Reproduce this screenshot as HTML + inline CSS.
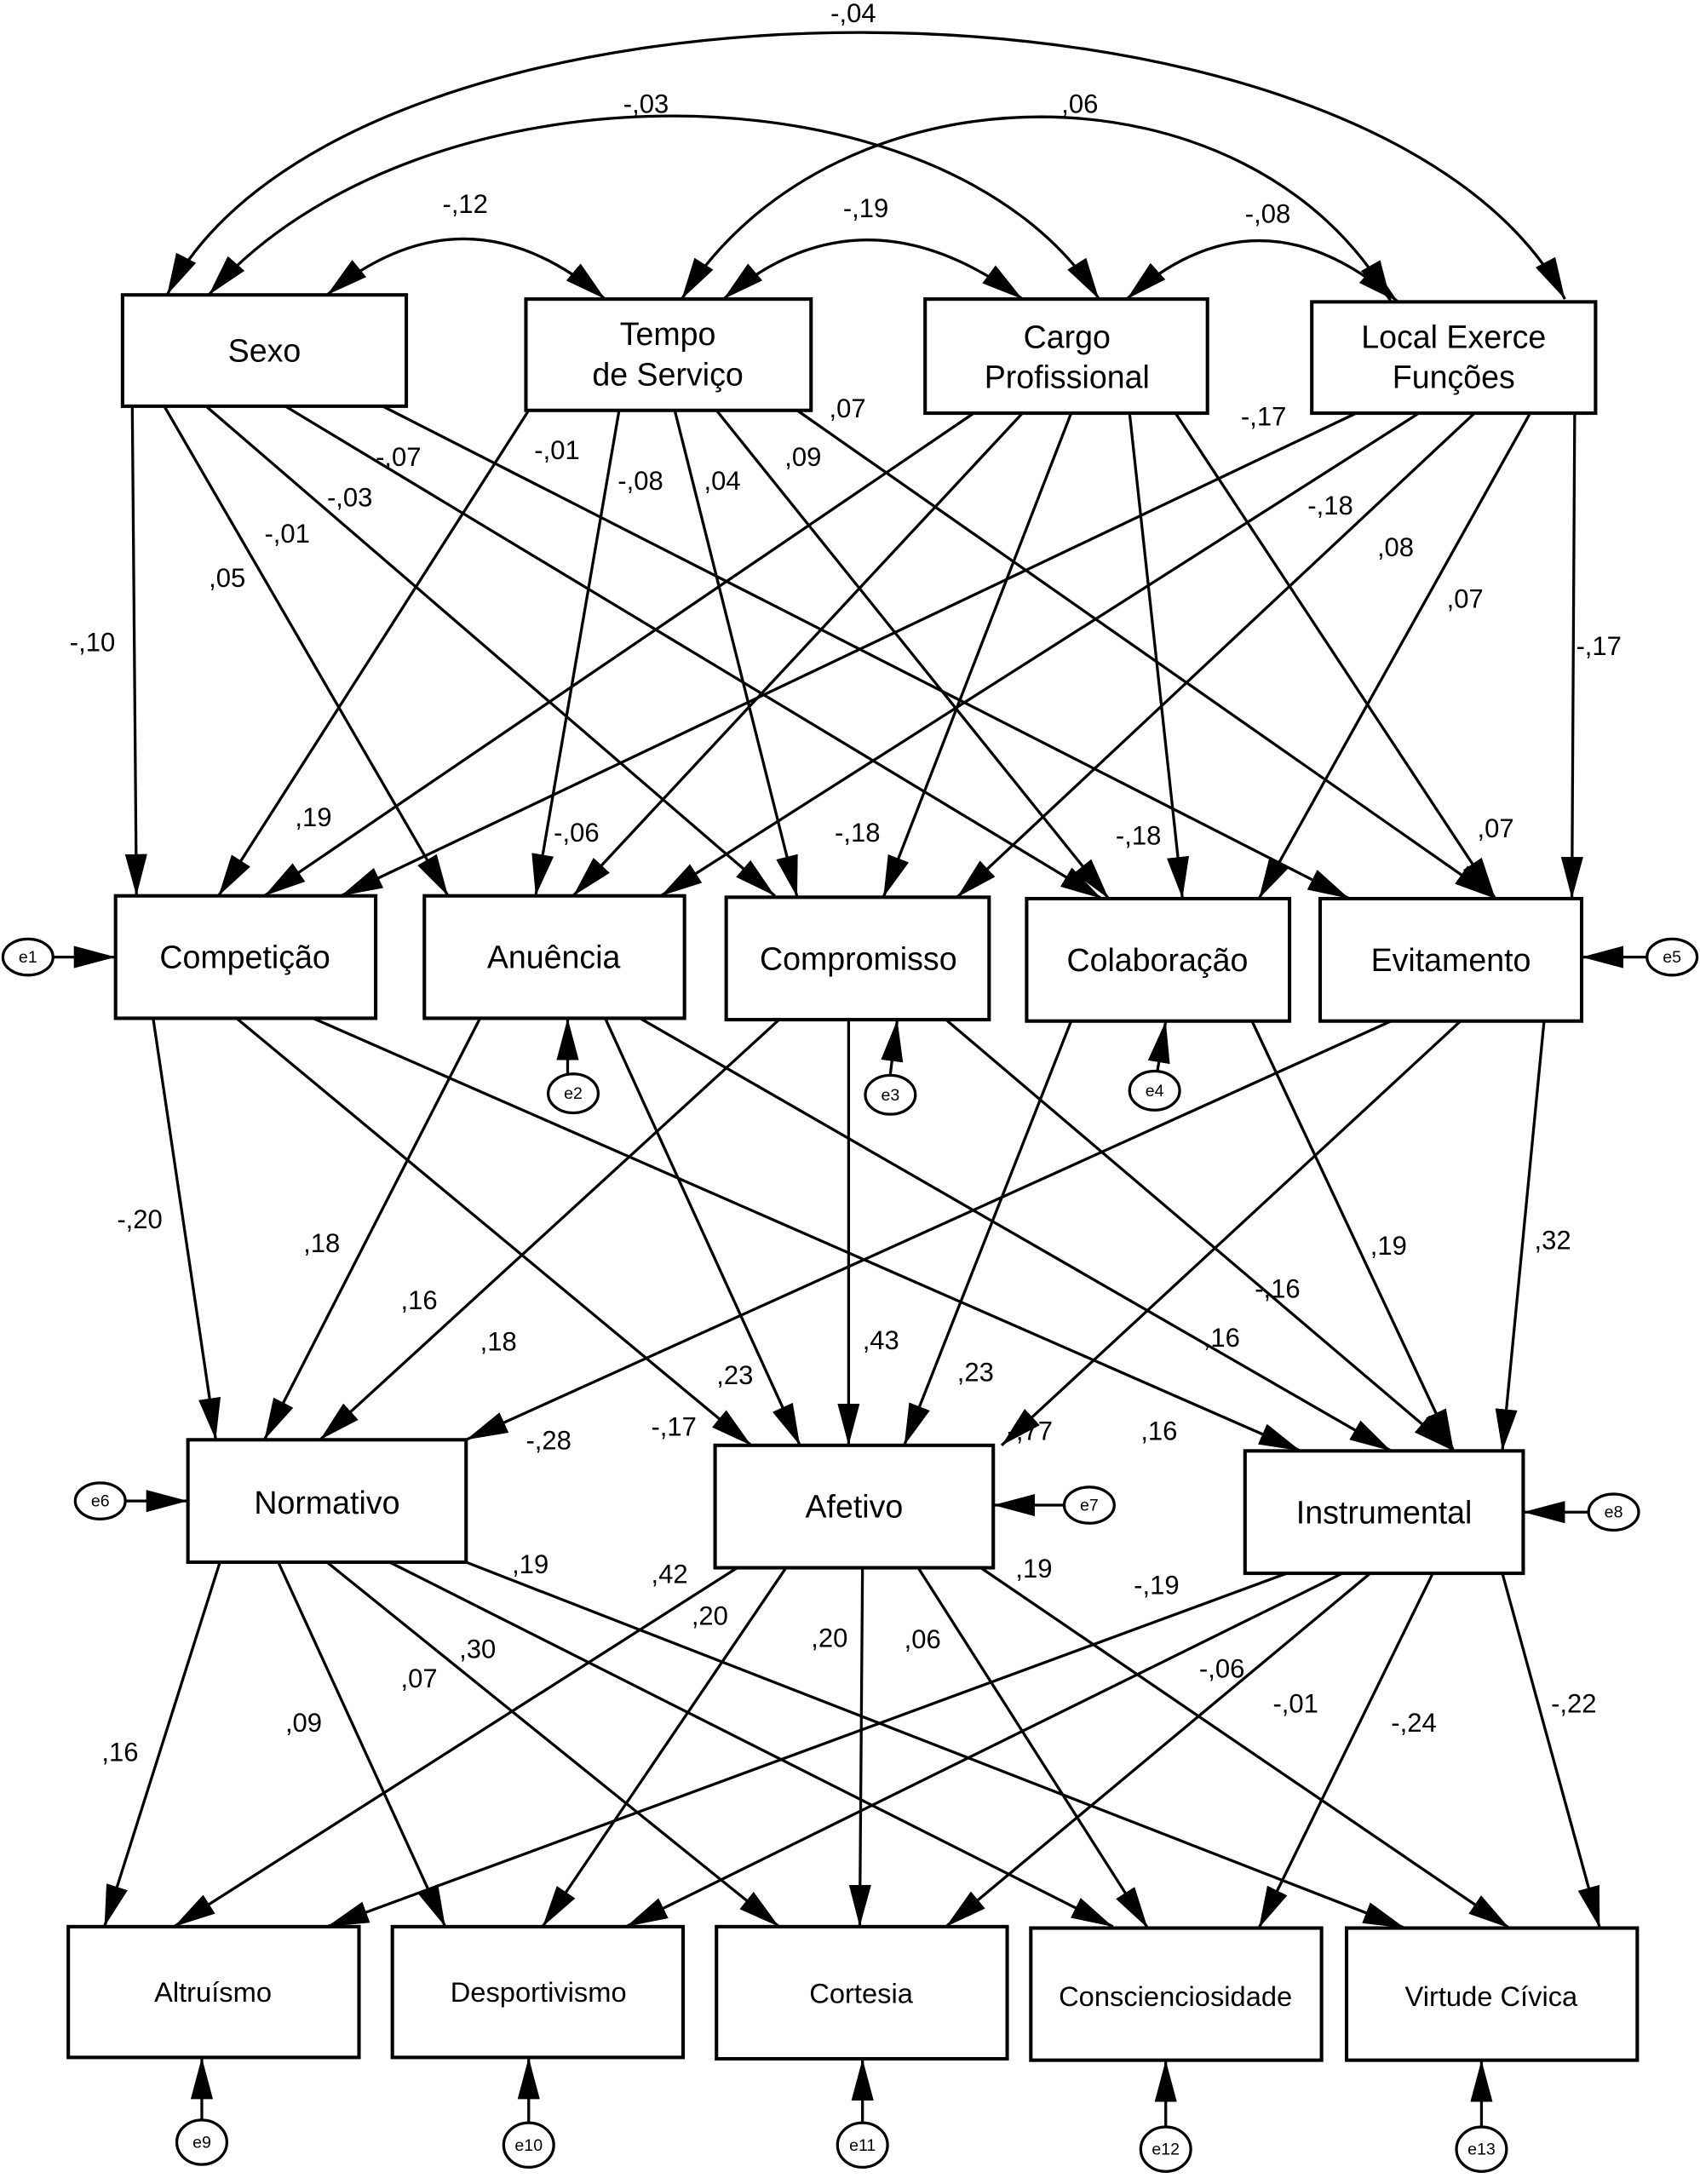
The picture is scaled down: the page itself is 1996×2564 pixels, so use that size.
<!DOCTYPE html>
<html><head><meta charset="utf-8"><style>
html,body{margin:0;padding:0;background:#fff}
svg{display:block}
text{font-family:"Liberation Sans",sans-serif;fill:#000;font-weight:normal}
</style></head><body>
<svg width="1996" height="2564" viewBox="0 0 1222 1570" xmlns="http://www.w3.org/2000/svg">
<defs>
<marker id="b" viewBox="0 0 10 10" refX="10" refY="5" markerWidth="30" markerHeight="16" markerUnits="userSpaceOnUse" orient="auto-start-reverse" preserveAspectRatio="none">
<path d="M0,0 L10,5 L0,10 z" fill="#000"/></marker>
</defs>
<g fill="none" stroke="#000" stroke-width="2">
<g marker-start="url(#b)" marker-end="url(#b)">
<path d="M120,212 C250,-40 990,-40 1125,215"/>
<path d="M150,212 C300,40 680,40 790,215"/>
<path d="M490,215 C600,40 900,40 1000,217"/>
<path d="M235,212 Q335,130 435,215"/>
<path d="M520,215 Q620,130 735,215"/>
<path d="M810,215 Q905,130 1005,217"/>
</g>
<g marker-end="url(#b)">
<line x1="95" y1="292" x2="98" y2="644"/>
<line x1="118" y1="292" x2="322" y2="644"/>
<line x1="148" y1="292" x2="557" y2="644"/>
<line x1="205" y1="292" x2="792" y2="646"/>
<line x1="275" y1="292" x2="970" y2="646"/>
<line x1="380" y1="295" x2="157" y2="644"/>
<line x1="445" y1="295" x2="385" y2="644"/>
<line x1="485" y1="295" x2="573" y2="645"/>
<line x1="515" y1="295" x2="797" y2="646"/>
<line x1="573" y1="295" x2="1075" y2="646"/>
<line x1="700" y1="297" x2="190" y2="644"/>
<line x1="735" y1="297" x2="412" y2="644"/>
<line x1="770" y1="297" x2="635" y2="645"/>
<line x1="812" y1="297" x2="850" y2="646"/>
<line x1="845" y1="297" x2="1075" y2="646"/>
<line x1="975" y1="297" x2="245" y2="644"/>
<line x1="1020" y1="297" x2="475" y2="644"/>
<line x1="1060" y1="297" x2="688" y2="645"/>
<line x1="1100" y1="297" x2="905" y2="646"/>
<line x1="1132" y1="297" x2="1130" y2="646"/>
<line x1="110" y1="732" x2="155" y2="1035"/>
<line x1="170" y1="732" x2="540" y2="1039"/>
<line x1="225" y1="732" x2="935" y2="1043"/>
<line x1="345" y1="732" x2="190" y2="1035"/>
<line x1="435" y1="732" x2="575" y2="1039"/>
<line x1="460" y1="732" x2="1000" y2="1043"/>
<line x1="560" y1="733" x2="230" y2="1035"/>
<line x1="610" y1="733" x2="610" y2="1039"/>
<line x1="680" y1="733" x2="1045" y2="1043"/>
<line x1="770" y1="734" x2="650" y2="1039"/>
<line x1="900" y1="734" x2="1045" y2="1043"/>
<line x1="1000" y1="734" x2="335" y2="1035"/>
<line x1="1050" y1="734" x2="720" y2="1039"/>
<line x1="1110" y1="734" x2="1080" y2="1043"/>
<line x1="158" y1="1123" x2="75" y2="1385"/>
<line x1="200" y1="1123" x2="320" y2="1385"/>
<line x1="235" y1="1123" x2="560" y2="1385"/>
<line x1="280" y1="1123" x2="800" y2="1385"/>
<line x1="335" y1="1123" x2="1010" y2="1386"/>
<line x1="530" y1="1127" x2="125" y2="1385"/>
<line x1="565" y1="1127" x2="390" y2="1385"/>
<line x1="620" y1="1127" x2="618" y2="1385"/>
<line x1="660" y1="1127" x2="825" y2="1386"/>
<line x1="705" y1="1127" x2="1085" y2="1386"/>
<line x1="925" y1="1131" x2="235" y2="1385"/>
<line x1="965" y1="1131" x2="450" y2="1385"/>
<line x1="985" y1="1131" x2="680" y2="1385"/>
<line x1="1030" y1="1131" x2="905" y2="1386"/>
<line x1="1080" y1="1131" x2="1150" y2="1386"/>
<line x1="37" y1="688" x2="83" y2="688"/>
<line x1="408" y1="772" x2="408" y2="732"/>
<line x1="640" y1="772" x2="645" y2="733"/>
<line x1="832" y1="770" x2="838" y2="734"/>
<line x1="1186" y1="688" x2="1137" y2="688"/>
<line x1="90" y1="1079" x2="135" y2="1079"/>
<line x1="767" y1="1082" x2="714" y2="1082"/>
<line x1="1142" y1="1087" x2="1095" y2="1087"/>
<line x1="145" y1="1525" x2="145" y2="1479"/>
<line x1="380" y1="1527" x2="380" y2="1479"/>
<line x1="620" y1="1527" x2="620" y2="1480"/>
<line x1="838" y1="1530" x2="838" y2="1481"/>
<line x1="1065" y1="1530" x2="1065" y2="1481"/>
</g>
</g>
<g fill="#fff" stroke="#000" stroke-width="2.5">
<rect x="88" y="212" width="204" height="80"/>
<rect x="378" y="215" width="205" height="80"/>
<rect x="665" y="215" width="203" height="82"/>
<rect x="943" y="217" width="204" height="80"/>
<rect x="83" y="644" width="187" height="88"/>
<rect x="305" y="644" width="187" height="88"/>
<rect x="522" y="645" width="189" height="88"/>
<rect x="738" y="646" width="189" height="88"/>
<rect x="949" y="646" width="188" height="88"/>
<rect x="135" y="1035" width="200" height="88"/>
<rect x="514" y="1039" width="200" height="88"/>
<rect x="895" y="1043" width="200" height="88"/>
<rect x="49" y="1385" width="209" height="94"/>
<rect x="282" y="1385" width="209" height="94"/>
<rect x="515" y="1385" width="209" height="95"/>
<rect x="741" y="1386" width="209" height="95"/>
<rect x="968" y="1386" width="209" height="95"/>
</g>
<g fill="#fff" stroke="#000" stroke-width="2">
<ellipse cx="20" cy="688" rx="18" ry="13"/>
<ellipse cx="412" cy="786" rx="18" ry="14"/>
<ellipse cx="640" cy="787" rx="18" ry="14"/>
<ellipse cx="830" cy="784" rx="18" ry="14"/>
<ellipse cx="1202" cy="688" rx="18" ry="13"/>
<ellipse cx="72" cy="1079" rx="18" ry="13"/>
<ellipse cx="783" cy="1082" rx="18" ry="13"/>
<ellipse cx="1160" cy="1087" rx="18" ry="13"/>
<ellipse cx="145" cy="1540" rx="18" ry="16"/>
<ellipse cx="380" cy="1542" rx="18" ry="16"/>
<ellipse cx="620" cy="1542" rx="18" ry="16"/>
<ellipse cx="838" cy="1545" rx="18" ry="16"/>
<ellipse cx="1065" cy="1545" rx="18" ry="16"/>
</g>
<g font-size="12" text-anchor="middle">
<text x="20" y="692">e1</text><text x="412" y="790">e2</text><text x="640" y="791">e3</text>
<text x="830" y="788">e4</text><text x="1202" y="692">e5</text><text x="72" y="1083">e6</text>
<text x="783" y="1086">e7</text><text x="1160" y="1091">e8</text><text x="145" y="1544">e9</text>
<text x="380" y="1546">e10</text><text x="620" y="1546">e11</text><text x="838" y="1549">e12</text><text x="1065" y="1549">e13</text>
</g>
<g font-size="23" text-anchor="middle">
<text x="190" y="260">Sexo</text>
<text x="480" y="248">Tempo</text><text x="480" y="277">de Serviço</text>
<text x="767" y="250">Cargo</text><text x="767" y="279">Profissional</text>
<text x="1045" y="250">Local Exerce</text><text x="1045" y="279">Funções</text>
<text x="176" y="696">Competição</text>
<text x="398" y="696">Anuência</text>
<text x="617" y="697">Compromisso</text>
<text x="832" y="698">Colaboração</text>
<text x="1043" y="698">Evitamento</text>
<text x="235" y="1088">Normativo</text>
<text x="614" y="1091">Afetivo</text>
<text x="995" y="1095">Instrumental</text>
</g>
<g font-size="20" text-anchor="middle">
<text x="153" y="1439">Altruísmo</text>
<text x="387" y="1439">Desportivismo</text>
<text x="619" y="1440">Cortesia</text>
<text x="845" y="1442">Conscienciosidade</text>
<text x="1072" y="1442">Virtude Cívica</text>
</g>
<g font-size="19">
<text x="597" y="16">-,04</text><text x="448" y="81">-,03</text><text x="763" y="81">,06</text>
<text x="318" y="153">-,12</text><text x="606" y="156">-,19</text><text x="895" y="160">-,08</text>
<text x="596" y="300">,07</text><text x="270" y="335">-,07</text><text x="384" y="330">-,01</text>
<text x="235" y="364">-,03</text><text x="444" y="352">-,08</text><text x="506" y="352">,04</text>
<text x="564" y="335">,09</text><text x="190" y="390">-,01</text><text x="150" y="422">,05</text>
<text x="50" y="468">-,10</text><text x="892" y="306">-,17</text><text x="940" y="370">-,18</text>
<text x="990" y="400">,08</text><text x="1040" y="437">,07</text><text x="1133" y="471">-,17</text>
<text x="212" y="594">,19</text><text x="398" y="605">-,06</text><text x="600" y="605">-,18</text>
<text x="802" y="607">-,18</text><text x="1062" y="602">,07</text>
<text x="84" y="883">-,20</text><text x="218" y="900">,18</text><text x="288" y="941">,16</text>
<text x="345" y="971">,18</text><text x="378" y="1042">-,28</text><text x="468" y="1032">-,17</text>
<text x="515" y="995">,23</text><text x="620" y="970">,43</text><text x="688" y="993">,23</text>
<text x="724" y="1035">-,77</text><text x="820" y="1035">,16</text><text x="865" y="968">,16</text>
<text x="902" y="933">-,16</text><text x="985" y="902">,19</text><text x="1103" y="898">,32</text>
<text x="368" y="1131">,19</text><text x="468" y="1138">,42</text><text x="497" y="1168">,20</text>
<text x="730" y="1134">,19</text><text x="815" y="1146">-,19</text><text x="330" y="1192">,30</text>
<text x="288" y="1213">,07</text><text x="205" y="1245">,09</text><text x="73" y="1266">,16</text>
<text x="583" y="1184">,20</text><text x="650" y="1185">,06</text><text x="862" y="1206">-,06</text>
<text x="915" y="1231">-,01</text><text x="1000" y="1245">-,24</text><text x="1115" y="1231">-,22</text>
</g>
</svg>
</body></html>
